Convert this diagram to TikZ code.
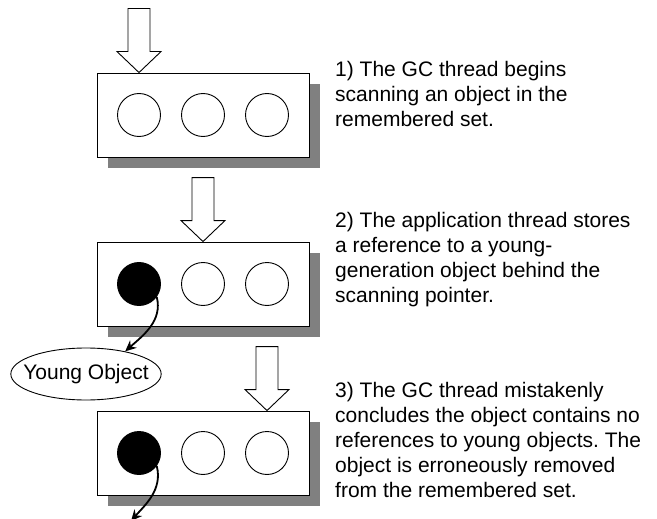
\documentclass[tikz,border=0pt]{standalone}
\usepackage{fontspec}
\setmainfont{Liberation Sans}
\frenchspacing
\usetikzlibrary{arrows.meta, shadows, shapes.geometric}

\tikzset{
  objbox/.style={draw, fill=white, minimum width=212pt, minimum height=84pt, inner sep=0pt, line width=0.9pt,
    drop shadow={shadow xshift=11pt, shadow yshift=-11pt, fill=black!50, opacity=1}},
  slot/.style={draw, circle, minimum size=43pt, inner sep=0pt, line width=0.9pt},
  full/.style={slot, fill=black},
  ref/.style={line width=1.8pt, -{Stealth[length=11pt,width=10pt]}},
  note/.style={anchor=north west, align=left, inner sep=0pt, font=\fontsize{21}{25}\selectfont},
}
% hollow scanning pointer, tip at #1
\newcommand{\scanptr}[1]{\draw[line width=0.9pt, fill=white] (#1) -- ++(-22,-21) -- ++(11,0) -- ++(0,-43)
  -- ++(22,0) -- ++(0,43) -- ++(11,0) -- cycle;}

\begin{document}
\begin{tikzpicture}[x=1pt,y=-1pt]
    \useasboundingbox (0,0) rectangle (657,519);

    % step 1
    \node[objbox] (b1) at (203,115) {};
    \node[slot] (c11) at (139,115) {};
    \node[slot] (c12) at (203,115) {};
    \node[slot] (c13) at (267,115) {};
    \coordinate (p1) at (b1.north -| c11);
    \scanptr{p1}
    \node[note] (t1) at (335,61) {1) The GC thread begins\\scanning an object in the\\remembered set.};

    % step 2
    \node[objbox] (b2) at (203,284) {};
    \node[full] (c21) at (139,284) {};
    \node[slot] (c22) at (203,284) {};
    \node[slot] (c23) at (267,284) {};
    \coordinate (p2) at (b2.north -| c22);
    \scanptr{p2}
    \node[note] (t2) at (335,212) {2) The application thread stores\\a reference to a young-\\generation object behind the\\scanning pointer.};

    \node[draw, ellipse, minimum width=150pt, minimum height=52pt, inner xsep=-9.5pt, inner ysep=0pt, line width=0.9pt,
      font=\fontsize{21}{25}\selectfont] (young) at (86,374) {Young Object};
    \draw[ref] (c21.-36) .. controls +(6,24) and +(18,-16) .. (young.30);

    % step 3
    \node[objbox] (b3) at (203,453) {};
    \node[full] (c31) at (139,453) {};
    \node[slot] (c32) at (203,453) {};
    \node[slot] (c33) at (267,453) {};
    \coordinate (p3) at (b3.north -| c33);
    \scanptr{p3}
    \node[note] (t3) at (335,382) {3) The GC thread mistakenly\\concludes the object contains no\\references to young objects. The\\object is erroneously removed\\from the remembered set.};

    \coordinate (lost) at (131,521);
    \draw[ref] (c31.-36) .. controls +(6,24) and +(14,-16) .. (lost);
\end{tikzpicture}
\end{document}
